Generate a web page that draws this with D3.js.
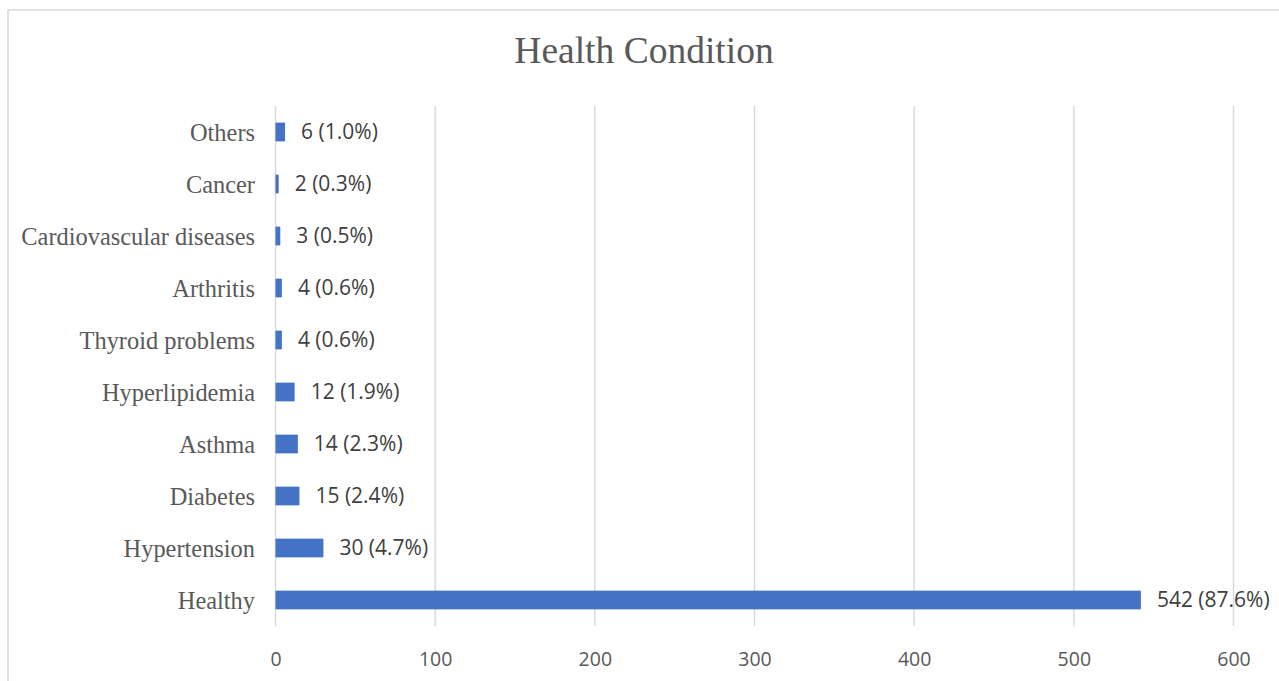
<!DOCTYPE html>
<html><head><meta charset="utf-8">
<script src="https://cdn.jsdelivr.net/npm/d3@7"></script>
<style>body{margin:0;background:#fff}svg{display:block}</style>
</head><body>
<script>
const categories = ["Healthy","Hypertension","Diabetes","Asthma","Hyperlipidemia","Thyroid problems","Arthritis","Cardiovascular diseases","Cancer","Others"];
const counts = [542,30,15,14,12,4,4,3,2,6];
const percents = ["87.6%","4.7%","2.4%","2.3%","1.9%","0.6%","0.6%","0.5%","0.3%","1.0%"];
const xTicks = [0,100,200,300,400,500,600];
const title = "Health Condition";

const W=1279,H=681;
const svg=d3.select("body").append("svg").attr("width",W).attr("height",H);
svg.append("rect").attr("x",8).attr("y",10).attr("width",W+10).attr("height",H+10)
  .attr("fill","#fff").attr("stroke","#d9d9d9").attr("stroke-width",1.5);

const x=d3.scaleLinear().domain([0,600]).range([275.5,1233.5]);
const y=d3.scaleBand().domain(categories.slice().reverse()).range([106,626]).paddingInner(0.64).paddingOuter(0.32);

svg.append("text").attr("x",644).attr("y",63).attr("text-anchor","middle")
  .attr("font-family","Liberation Serif, serif").attr("font-size",37.5).attr("fill","#595959").text(title);

const g=svg.append("g");
g.selectAll("line.grid").data(xTicks).join("line").attr("class","grid")
  .attr("x1",d=>x(d)).attr("x2",d=>x(d)).attr("y1",106).attr("y2",626)
  .attr("stroke","#d9d9d9").attr("stroke-width",1.5);

const axis=d3.axisBottom(x).tickValues(xTicks).tickSize(0).tickPadding(13);
const ag=svg.append("g").attr("transform","translate(0,639)").call(axis);
ag.select(".domain").remove();
ag.selectAll("text").attr("font-family","Open Sans, sans-serif").attr("font-size",19.5).attr("fill","#595959");

const data=categories.map((c,i)=>({c,v:counts[i],p:percents[i]}));
g.selectAll("rect.bar").data(data).join("rect").attr("class","bar")
  .attr("x",x(0)).attr("y",d=>y(d.c)).attr("width",d=>x(d.v)-x(0)).attr("height",y.bandwidth())
  .attr("fill","#4472c4");

g.selectAll("text.lbl").data(data).join("text").attr("class","lbl")
  .attr("x",d=>x(d.v)+16).attr("y",d=>y(d.c)+y.bandwidth()/2).attr("dy","0.35em")
  .attr("font-family","Open Sans, sans-serif").attr("font-size",21).attr("fill","#404040")
  .text(d=>`${d.v} (${d.p})`);

g.selectAll("text.cat").data(data).join("text").attr("class","cat")
  .attr("x",255).attr("y",d=>y(d.c)+y.bandwidth()/2).attr("dy","0.35em").attr("text-anchor","end")
  .attr("font-family","Liberation Serif, serif").attr("font-size",24.4).attr("fill","#595959")
  .text(d=>d.c);
</script>
</body></html>
